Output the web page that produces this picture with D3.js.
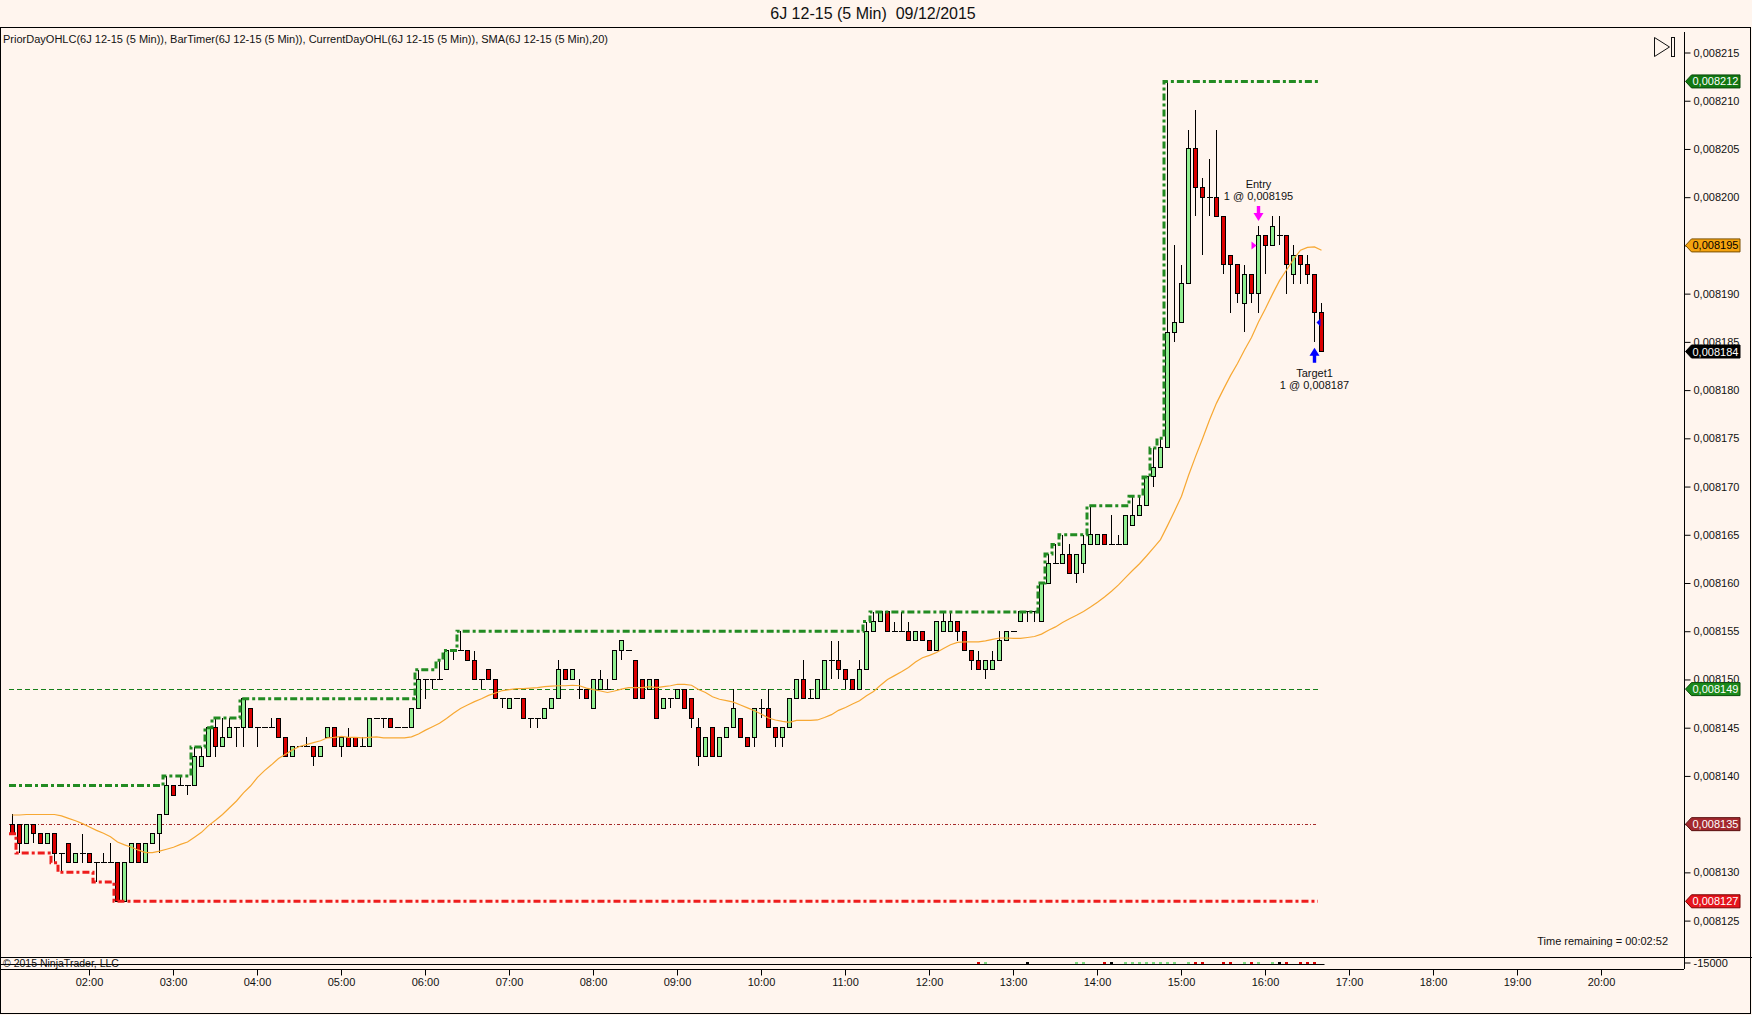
<!DOCTYPE html>
<html>
<head>
<meta charset="utf-8">
<script src="https://cdn.jsdelivr.net/npm/d3@7"></script>
<style>
  html, body { margin: 0; padding: 0; background: #fff5ee; }
  svg { display: block; font-family: "Liberation Sans", Arial, sans-serif; }
</style>
</head>
<body>
<script>
// prices are kept in ticks above 0,008100 (1 tick = 0,000001)
const priceBase = 8100;           // in millionths
const firstBar = new Date(2015, 11, 9, 1, 5);   // 5 min bars, 09/12/2015

const opens = [
  35,35,33,35,34,33,34,32,33,31,32,
  32,31,31,31,31,27,31,33,31,33,34,36,
  39,39,39,39,41,42,45,43,44,45,45,47,
  45,45,45,46,44,42,43,43,43,42,44,45,
  43,44,44,43,43,46,46,46,45,45,45,47,
  50,50,50,51,53,53,53,52,50,51,50,48,
  47,48,48,46,46,46,47,48,51,50,49,49,
  47,49,49,50,53,53,52,50,49,50,47,48,
  48,49,48,45,42,45,42,44,45,46,44,44,
  47,47,45,44,45,48,50,48,48,49,52,52,
  51,50,49,51,55,56,57,55,55,55,54,55,
  54,53,55,55,56,55,53,52,51,51,52,54,
  55,56,57,57,56,60,62,62,63,61,62,64,
  64,65,64,64,64,66,67,68,71,72,74,86,
  87,91,105,101,100,100,98,94,93,89,92,90,
  96,95,96,96,92,94,93,92,88
];
const highs = [
  36,35,35,35,34,34,34,32,33,32,34,
  32,31,32,33,31,31,33,33,33,34,36,40,
  39,40,39,43,43,45,46,46,46,45,48,47,
  45,45,46,46,44,43,43,44,43,43,45,45,
  44,45,44,44,46,46,46,46,45,45,47,51,
  50,50,52,53,53,55,53,53,50,51,50,48,
  48,48,48,46,46,47,48,52,51,51,50,49,
  50,51,50,53,54,53,52,50,50,50,48,48,
  49,49,48,46,44,45,44,45,49,46,44,47,
  48,49,45,45,48,50,52,49,50,52,54,54,
  51,50,52,56,57,57,57,56,57,56,55,55,
  54,56,57,57,56,55,53,53,52,53,55,55,
  55,57,57,57,60,63,64,65,64,63,65,68,
  65,65,67,65,67,69,69,71,74,75,112,95,
  93,107,109,102,104,107,98,94,93,93,92,97,
  96,98,98,96,95,94,94,92,89
];
const lows = [
  34,32,33,33,33,33,31,30,31,31,31,
  31,29,31,31,27,27,31,31,31,33,32,36,
  38,39,38,39,41,42,42,43,44,43,43,45,
  43,45,45,44,42,42,43,43,41,42,44,43,
  42,43,43,43,43,46,45,45,45,45,45,47,
  48,49,50,51,52,53,52,50,49,50,48,47,
  47,48,46,45,45,46,47,48,50,50,48,48,
  47,49,49,50,52,53,48,48,49,46,47,47,
  48,47,45,41,42,42,42,44,45,44,43,43,
  46,45,43,43,45,48,48,48,48,49,50,50,
  49,49,49,51,55,56,55,55,55,54,54,54,
  53,53,55,55,54,53,51,51,50,51,52,54,
  55,56,56,56,56,60,62,62,61,60,61,64,
  64,64,64,64,64,66,67,68,70,72,74,85,
  87,91,98,94,98,98,92,88,89,86,89,88,
  92,95,95,90,91,91,91,85,84
];
const closes = [
  34,33,35,34,33,34,32,32,31,32,32,
  31,31,31,31,27,31,33,31,33,34,36,39,
  38,39,39,42,42,45,43,44,45,45,48,45,
  45,45,45,44,42,43,43,43,42,43,45,43,
  44,43,43,43,46,46,46,45,45,45,47,50,
  50,50,50,53,53,53,52,50,50,50,48,48,
  48,48,46,46,46,47,48,51,50,51,49,48,
  50,50,49,53,54,53,48,48,50,46,48,48,
  49,47,46,42,44,42,44,45,47,44,43,47,
  47,45,44,45,48,50,48,48,50,52,52,51,
  50,49,51,55,56,57,55,55,55,54,55,54,
  53,56,56,56,55,53,52,51,52,52,54,55,
  55,57,57,57,60,62,62,63,61,63,64,65,
  65,64,64,64,67,67,68,71,72,74,86,87,
  91,105,101,100,100,98,93,93,90,92,90,96,
  95,97,96,93,94,93,92,88,84
];
// closes of the 19 bars before the visible range (estimated, only feed the SMA)
const priorCloses = [33,34,34,33,34,32,35,36,37,38,38,38,37,38,38,37,38,37,38];
// session high / low already set before the first visible bar
const sessionBefore = [39, 34];
// PriorDayOHLC levels
const priorDayLevels = [49, 35];
// executions: bar number (1 = first visible bar), price in ticks
const executions = [
  { name: 'Entry',   bar: 179, price: 95, qty: 1, dir: 'down', color: '#ff00ff' },
  { name: 'Target1', bar: 187, price: 87, qty: 1, dir: 'up',   color: '#0000ff' }
];
// bars that leave a mark in the small lower panel
const volMarkBars = [139,140,146,153,154,157,158,160,161,162,163,164,165,166,167,
  169,170,171,174,175,177,178,179,181,182,183,185,186,187];

const W = 1752, H = 1015;
const panel = { left: 0, right: 1684, top: 27, bottom: 957, volBottom: 969 };

const fmtPrice = t => '0,' + String(priceBase + t).padStart(6, '0');

const svg = d3.select('body').append('svg')
  .attr('width', W)
  .attr('height', H);

svg.append('rect').attr('width', W).attr('height', H).attr('fill', '#fff5ee');

// scales
const x = d3.scaleTime()
  .domain([new Date(2015, 11, 9, 1, 0), new Date(2015, 11, 9, 21, 0)])
  .range([5, 1685]);
const y = d3.scaleLinear()
  .domain([8125, 8215])
  .range([920.6, 52.5]);
const py = t => y(priceBase + t);
const crispY = t => Math.round(py(t)) + 0.5;
const vy = d3.scaleLinear().domain([-30000, 0]).range([panel.volBottom, panel.bottom]);

const bars = opens.map((o, i) => ({
  time: d3.timeMinute.offset(firstBar, 5 * i),
  o, h: highs[i], l: lows[i], c: closes[i]
}));
const cx = d => Math.round(x(d.time)) + 0.5;
const half = 3.5;   // half a bar slot

// SMA(20)
const allCloses = priorCloses.concat(closes);
const sma = closes.map((_, i) => d3.mean(allCloses.slice(i, i + 20)));

// running session high / low
let hi = sessionBefore[0], lo = sessionBefore[1];
const runHigh = bars.map(b => (hi = Math.max(hi, b.h)));
const runLow = bars.map(b => (lo = Math.min(lo, b.l)));

// title and header
svg.append('text')
  .attr('x', 873).attr('y', 19)
  .attr('text-anchor', 'middle')
  .style('white-space', 'pre')
  .attr('font-size', 16)
  .attr('fill', '#111')
  .text('6J 12-15 (5 Min)  09/12/2015');

svg.append('text')
  .attr('x', 3).attr('y', 42.5)
  .attr('font-size', 10)
  .attr('textLength', 605)
  .attr('lengthAdjust', 'spacingAndGlyphs')
  .attr('fill', '#111')
  .text('PriorDayOHLC(6J 12-15 (5 Min)), BarTimer(6J 12-15 (5 Min)), CurrentDayOHL(6J 12-15 (5 Min)), SMA(6J 12-15 (5 Min),20)');

// frame lines
const frame = svg.append('g').attr('stroke', '#000').attr('stroke-width', 1).attr('fill', 'none');
frame.append('rect').attr('x', 0.5).attr('y', panel.top + 0.5).attr('width', W - 2).attr('height', H - panel.top - 2);
frame.append('line').attr('x1', 0).attr('x2', W).attr('y1', panel.bottom + 0.5).attr('y2', panel.bottom + 0.5);
frame.append('line').attr('x1', 0).attr('x2', panel.right).attr('y1', panel.volBottom + 0.5).attr('y2', panel.volBottom + 0.5);
frame.append('line').attr('x1', panel.right + 0.5).attr('x2', panel.right + 0.5).attr('y1', panel.top + 5).attr('y2', panel.volBottom);

const plot = svg.append('g');

// prior day levels
const xStart = cx(bars[0]) - half;
const xEnd = cx(bars[bars.length - 1]) - half;
plot.append('line')
  .attr('x1', xStart).attr('x2', xEnd)
  .attr('y1', crispY(priorDayLevels[0])).attr('y2', crispY(priorDayLevels[0]))
  .attr('stroke', '#17801a').attr('stroke-dasharray', '5,3')
  .attr('shape-rendering', 'crispEdges');
plot.append('line')
  .attr('x1', xStart).attr('x2', xEnd)
  .attr('y1', crispY(priorDayLevels[1])).attr('y2', crispY(priorDayLevels[1]))
  .attr('stroke', '#a52a2a').attr('stroke-dasharray', '3,2,1,2')
  .attr('shape-rendering', 'crispEdges');

// candles
const candles = plot.append('g').attr('shape-rendering', 'crispEdges');
candles.selectAll('line.wick')
  .data(bars).enter().append('line')
  .attr('class', 'wick')
  .attr('x1', cx).attr('x2', cx)
  .attr('y1', d => py(d.h)).attr('y2', d => py(d.l))
  .attr('stroke', '#000');
candles.selectAll('rect.body')
  .data(bars.filter(d => d.o !== d.c)).enter().append('rect')
  .attr('class', 'body')
  .attr('x', d => cx(d) - 2)
  .attr('y', d => py(Math.max(d.o, d.c)))
  .attr('width', 4)
  .attr('height', d => py(Math.min(d.o, d.c)) - py(Math.max(d.o, d.c)))
  .attr('fill', d => d.c > d.o ? '#90ee90' : '#dc0000')
  .attr('stroke', '#000');
candles.selectAll('line.doji')
  .data(bars.filter(d => d.o === d.c)).enter().append('line')
  .attr('class', 'doji')
  .attr('x1', d => cx(d) - 3).attr('x2', d => cx(d) + 3)
  .attr('y1', d => py(d.o)).attr('y2', d => py(d.o))
  .attr('stroke', '#000');

// current day high / low step lines
const step = d3.line()
  .x(d => d.x).y(d => py(d.v))
  .curve(d3.curveStepAfter);
plot.append('path')
  .attr('d', step(bars.map((b, i) => ({ x: cx(b) - half, v: runHigh[i] }))))
  .attr('fill', 'none').attr('stroke', '#228b22').attr('stroke-width', 3)
  .attr('stroke-dasharray', '7,3,3,3');
plot.append('path')
  .attr('d', step(bars.map((b, i) => ({ x: cx(b) - half, v: runLow[i] }))))
  .attr('fill', 'none').attr('stroke', '#ee1c1c').attr('stroke-width', 3)
  .attr('stroke-dasharray', '7,3,3,3');

// SMA line
plot.append('path')
  .attr('d', d3.line().x((d, i) => cx(bars[i])).y(d => py(d))(sma))
  .attr('fill', 'none').attr('stroke', '#f7a833').attr('stroke-width', 1.2);

// executions
executions.forEach(e => {
  const b = bars[e.bar - 1];
  const c = cx(b);
  const g = plot.append('g');
  if (e.dir === 'down') {
    const tip = py(b.h) - 5;
    g.append('path')
      .attr('d', `M${c},${tip}L${c - 5},${tip - 8}L${c - 1.7},${tip - 8}L${c - 1.7},${tip - 15}` +
        `L${c + 1.7},${tip - 15}L${c + 1.7},${tip - 8}L${c + 5},${tip - 8}Z`)
      .attr('fill', e.color);
    g.append('text').attr('x', c).attr('y', tip - 33).attr('text-anchor', 'middle')
      .attr('font-size', 11).attr('fill', '#111').text(e.name);
    g.append('text').attr('x', c).attr('y', tip - 21).attr('text-anchor', 'middle')
      .attr('font-size', 11).attr('fill', '#111').text(`${e.qty} @ ${fmtPrice(e.price)}`);
    const ey = py(e.price);
    g.append('path').attr('d', `M${c - 2},${ey}L${c - 7},${ey - 4}L${c - 7},${ey + 4}Z`).attr('fill', e.color);
  } else {
    const tip = py(b.l) + 6;
    g.append('path')
      .attr('d', `M${c},${tip}L${c - 5},${tip + 8}L${c - 1.7},${tip + 8}L${c - 1.7},${tip + 15}` +
        `L${c + 1.7},${tip + 15}L${c + 1.7},${tip + 8}L${c + 5},${tip + 8}Z`)
      .attr('fill', e.color);
    g.append('text').attr('x', c).attr('y', tip + 29).attr('text-anchor', 'middle')
      .attr('font-size', 11).attr('fill', '#111').text(e.name);
    g.append('text').attr('x', c).attr('y', tip + 41).attr('text-anchor', 'middle')
      .attr('font-size', 11).attr('fill', '#111').text(`${e.qty} @ ${fmtPrice(e.price)}`);
    const ey = py(e.price);
    g.append('path').attr('d', `M${c + 2},${ey}L${c + 6},${ey - 4}L${c + 6},${ey + 4}Z`).attr('fill', e.color);
  }
});

// lower panel
svg.append('line')
  .attr('x1', 0).attr('x2', cx(bars[bars.length - 1]) + 3)
  .attr('y1', vy(-15000) + 1.5).attr('y2', vy(-15000) + 1.5)
  .attr('stroke', '#000');
svg.selectAll('rect.vmark')
  .data(volMarkBars.map(n => bars[n - 1])).enter().append('rect')
  .attr('class', 'vmark')
  .attr('x', d => cx(d) - 1.5).attr('y', vy(-15000) - 1)
  .attr('width', 3).attr('height', 2)
  .attr('fill', d => d.c > d.o ? '#7fd87f' : (d.c < d.o ? '#d40000' : '#000'));
svg.append('text')
  .attr('x', 3).attr('y', 966.5)
  .attr('font-size', 10.5).attr('fill', '#111')
  .text('© 2015 NinjaTrader, LLC');

// right price axis
const yAxis = d3.axisRight(y)
  .tickValues(d3.range(8125, 8216, 5))
  .tickSize(6)
  .tickFormat(m => fmtPrice(m - priceBase));
const yg = svg.append('g')
  .attr('transform', `translate(${panel.right + 0.5},0)`)
  .call(yAxis);
yg.select('.domain').remove();
yg.selectAll('text').attr('font-size', 11).attr('font-family', '"Liberation Sans", Arial, sans-serif').attr('fill', '#111');

// lower panel axis label
const vg = svg.append('g').attr('transform', `translate(${panel.right + 0.5},0)`);
vg.append('line').attr('x1', 0).attr('x2', 6).attr('y1', vy(-15000)).attr('y2', vy(-15000)).attr('stroke', '#000');
vg.append('text').attr('x', 9).attr('y', vy(-15000) + 4).attr('font-size', 11).attr('fill', '#111').text('-15000');

// bottom time axis
const xAxis = d3.axisBottom(x)
  .tickValues(d3.timeHour.range(new Date(2015, 11, 9, 2), new Date(2015, 11, 9, 21)))
  .tickSize(6)
  .tickFormat(d3.timeFormat('%H:%M'));
const xg = svg.append('g')
  .attr('transform', `translate(0,${panel.volBottom + 0.5})`)
  .call(xAxis);
xg.select('.domain').remove();
xg.selectAll('text').attr('font-size', 11).attr('font-family', '"Liberation Sans", Arial, sans-serif').attr('fill', '#111');

// price markers on the axis
const lastSma = Math.round(sma[sma.length - 1]);
const badges = [
  { v: runHigh[runHigh.length - 1], fill: '#127812', stroke: '#0a4a0a', text: '#fff' },
  { v: lastSma, fill: '#f5a30f', stroke: '#7a5000', text: '#000' },
  { v: closes[closes.length - 1], fill: '#000', stroke: '#000', text: '#fff' },
  { v: priorDayLevels[0], fill: '#1b8a1b', stroke: '#0a4a0a', text: '#fff' },
  { v: priorDayLevels[1], fill: '#a3282e', stroke: '#5a1010', text: '#fff' },
  { v: runLow[runLow.length - 1], fill: '#e5141c', stroke: '#7a0000', text: '#fff' }
];
const bx0 = panel.right + 1.5, bx1 = 1740;
const bg = svg.append('g');
badges.forEach(b => {
  const yc = py(b.v);
  bg.append('path')
    .attr('d', `M${bx0},${yc}L${bx0 + 6},${yc - 6.5}L${bx1},${yc - 6.5}L${bx1},${yc + 6.5}L${bx0 + 6},${yc + 6.5}Z`)
    .attr('fill', b.fill).attr('stroke', b.stroke);
  bg.append('text')
    .attr('x', bx0 + 7).attr('y', yc + 4)
    .attr('font-size', 11).attr('fill', b.text)
    .text(fmtPrice(b.v));
});

// bar timer
svg.append('text')
  .attr('x', 1668).attr('y', 945)
  .attr('text-anchor', 'end')
  .attr('font-size', 11).attr('fill', '#111')
  .text('Time remaining = 00:02:52');

// scroll-to-end icon
const icon = svg.append('g').attr('fill', 'none').attr('stroke', '#111');
icon.append('path').attr('d', 'M1654.5,37.5L1669.5,47L1654.5,56.5Z');
icon.append('rect').attr('x', 1671.5).attr('y', 37.5).attr('width', 3).attr('height', 19);
</script>
</body>
</html>
